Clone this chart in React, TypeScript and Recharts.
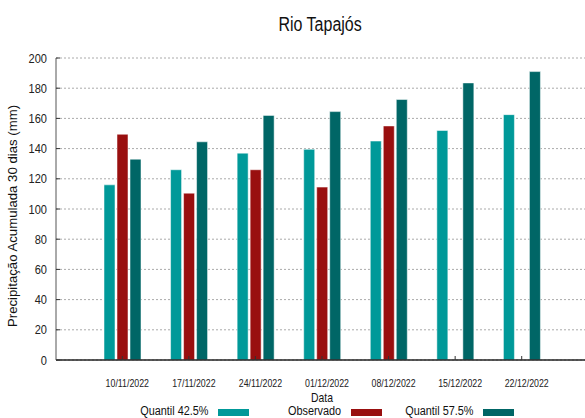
import { BarChart, Bar, XAxis, YAxis, CartesianGrid } from "recharts";

const FONT = '"Liberation Sans", Arial, sans-serif';

const dates = ["10/11/2022", "17/11/2022", "24/11/2022", "01/12/2022", "08/12/2022", "15/12/2022", "22/12/2022"];
const quantil425 = [116, 126, 137, 139.5, 145, 152, 162.5];
const observado = [149.5, 110.5, 126, 114.5, 155, null, null];
const quantil575 = [133, 144.5, 162, 164.5, 172.5, 183.5, 191];
const yTicks = [0, 20, 40, 60, 80, 100, 120, 140, 160, 180, 200];

const series = [
  { key: "q425", name: "Quantil 42.5%", color: "#009999" },
  { key: "obs", name: "Observado", color: "#990f0f" },
  { key: "q575", name: "Quantil 57.5%", color: "#006666" },
];

const data = dates.map((d, i) => ({ date: d, q425: quantil425[i], obs: observado[i], q575: quantil575[i] }));

const axisColor = "#333";

// the original uses a condensed face; squeeze Liberation Sans horizontally instead
const XTick = ({ x, y, payload }: any) => (
  <g transform={`translate(${x + 5},${y})`}>
    <text transform="scale(0.8,1)" textAnchor="middle" dy="0.71em" fontSize={11} fill="#222" fontFamily={FONT}>
      {payload.value}
    </text>
  </g>
);

const YTick = ({ x, y, payload }: any) => (
  <g transform={`translate(${x},${y})`}>
    <text transform="scale(0.85,1)" textAnchor="end" dy="0.355em" fontSize={13} fill="#222" fontFamily={FONT}>
      {payload.value}
    </text>
  </g>
);

export default function App() {
  return (
    <div style={{ position: "absolute", top: 0, left: 0, width: 585, height: 418, overflow: "hidden", background: "white", fontFamily: FONT }}>
      <div style={{ position: "absolute", top: 13, left: 0, width: 641, textAlign: "center", fontSize: 20, color: "#111" }}>
        <span style={{ display: "inline-block", transform: "scaleX(0.8)" }}>Rio Tapajós</span>
      </div>
      <BarChart width={590} height={418} data={data} barSize={11} barGap={2}
        margin={{ top: 58, right: 2, bottom: 18, left: 0 }}>
        <CartesianGrid vertical={false} stroke="#aaa" strokeDasharray="2 2" />
        <XAxis dataKey="date" height={40} padding={{ left: 33, right: 33 }} interval={0}
          stroke={axisColor} axisLine={{ stroke: "#222", strokeWidth: 1.5 }}
          tickSize={-4} tickMargin={23} tick={<XTick />}
          label={(p: any) => {
            const vb = p.viewBox;
            const cx = vb.x + vb.width / 2;
            return (
              <text x={cx} y={402} transform={`translate(${cx * 0.2},0) scale(0.8,1)`} textAnchor="middle"
                fontSize={13} fill="#111" fontFamily={FONT}>Data</text>
            );
          }} />
        <XAxis xAxisId="top" dataKey="date" orientation="top" height={0} padding={{ left: 33, right: 33 }} interval={0}
          stroke={axisColor} tickSize={-5} tick={false} />
        <YAxis domain={[0, 200]} ticks={yTicks} width={56} stroke="#555" interval={0}
          tickSize={-4} tickMargin={13} tickLine={{ stroke: axisColor }} tick={<YTick />}
          label={() => (
            <text x={17} y={216} transform="rotate(-90 17 216)" textAnchor="middle" fontSize={13.2} fill="#111" fontFamily={FONT}>
              Precipitação Acumulada 30 dias (mm)
            </text>
          )} />
        <YAxis yAxisId="right" orientation="right" domain={[0, 200]} ticks={yTicks} width={0} interval={0}
          stroke={axisColor} tickSize={-5} tick={false} />
        {series.map(s => (
          <Bar key={s.key} dataKey={s.key} name={s.name} fill={s.color}
            stroke="rgba(255,255,255,0.5)" strokeWidth={1} isAnimationActive={false} />
        ))}
      </BarChart>
      <div style={{ position: "absolute", top: 404, left: 116.5, display: "flex", fontSize: 12.5, color: "#111" }}>
        {series.map(s => (
          <div key={s.key} style={{ width: 132.5, display: "flex", justifyContent: "flex-end", alignItems: "center", gap: 9 }}>
            <span style={{ display: "inline-block", transform: "scaleX(0.87)", transformOrigin: "right center" }}>{s.name}</span>
            <span style={{ width: 31, height: 7, background: s.color, display: "inline-block", marginTop: 3 }} />
          </div>
        ))}
      </div>
    </div>
  );
}
